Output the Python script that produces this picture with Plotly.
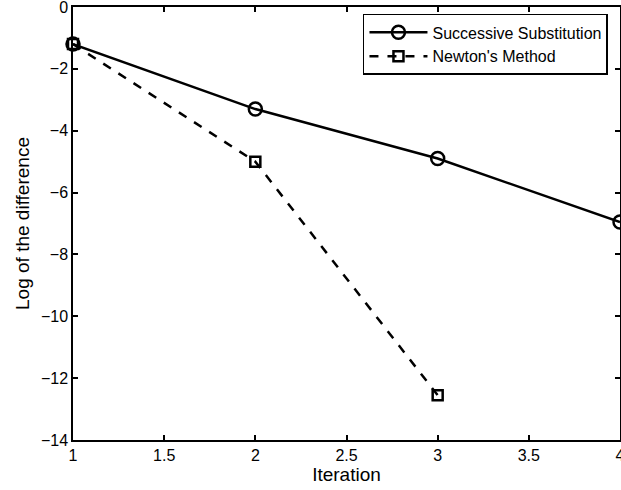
import plotly.graph_objects as go

# Convergence history of the two solvers
iter_ss = [1, 2, 3, 4]
logdiff_ss = [-1.2, -3.3, -4.9, -6.95]

iter_nm = [1, 2, 3]
logdiff_nm = [-1.2, -5.0, -12.55]

x_ticks = [1, 1.5, 2, 2.5, 3, 3.5, 4]
y_ticks = [0, -2, -4, -6, -8, -10, -12, -14]

fig = go.Figure()
fig.add_trace(go.Scatter(
    x=iter_ss, y=logdiff_ss, mode="lines+markers",
    name="Successive Substitution",
    line=dict(color="black", width=2.5),
    marker=dict(symbol="circle-open", size=13, color="black", line=dict(width=2.5)),
    cliponaxis=False,
))
fig.add_trace(go.Scatter(
    x=iter_nm, y=logdiff_nm, mode="lines+markers",
    name="Newton's Method",
    line=dict(color="black", width=2.5, dash="dash"),
    marker=dict(symbol="square-open", size=10, color="black", line=dict(width=2.5)),
    cliponaxis=False,
))

axis_common = dict(
    showline=True, linecolor="black", linewidth=1.5, mirror="ticks",
    ticks="inside", ticklen=5, tickcolor="black", tickwidth=1.5,
    showgrid=False, zeroline=False, ticklabeloverflow="allow",
    automargin=False,
    tickfont=dict(family="Liberation Sans, Arial", size=16, color="black"),
)

fig.update_layout(
    width=621, height=490,
    margin=dict(l=73, r=1, t=7, b=50),
    paper_bgcolor="white", plot_bgcolor="white",
    font=dict(family="Liberation Sans, Arial", color="black"),
    xaxis=dict(range=[1, 4], tickvals=x_ticks,
               ticktext=[str(v) for v in x_ticks],
               title=dict(text="Iteration", font=dict(size=19), standoff=4),
               **axis_common),
    yaxis=dict(range=[-14, 0], tickvals=y_ticks,
               title=dict(text="Log of the difference", font=dict(size=19), standoff=6),
               **axis_common),
    legend=dict(x=0.978, y=0.984, xanchor="right", yanchor="top",
                bordercolor="black", borderwidth=1.5, bgcolor="white",
                font=dict(size=16), tracegroupgap=0,
                itemwidth=58),
    showlegend=True,
)

fig.write_html("out.html")
